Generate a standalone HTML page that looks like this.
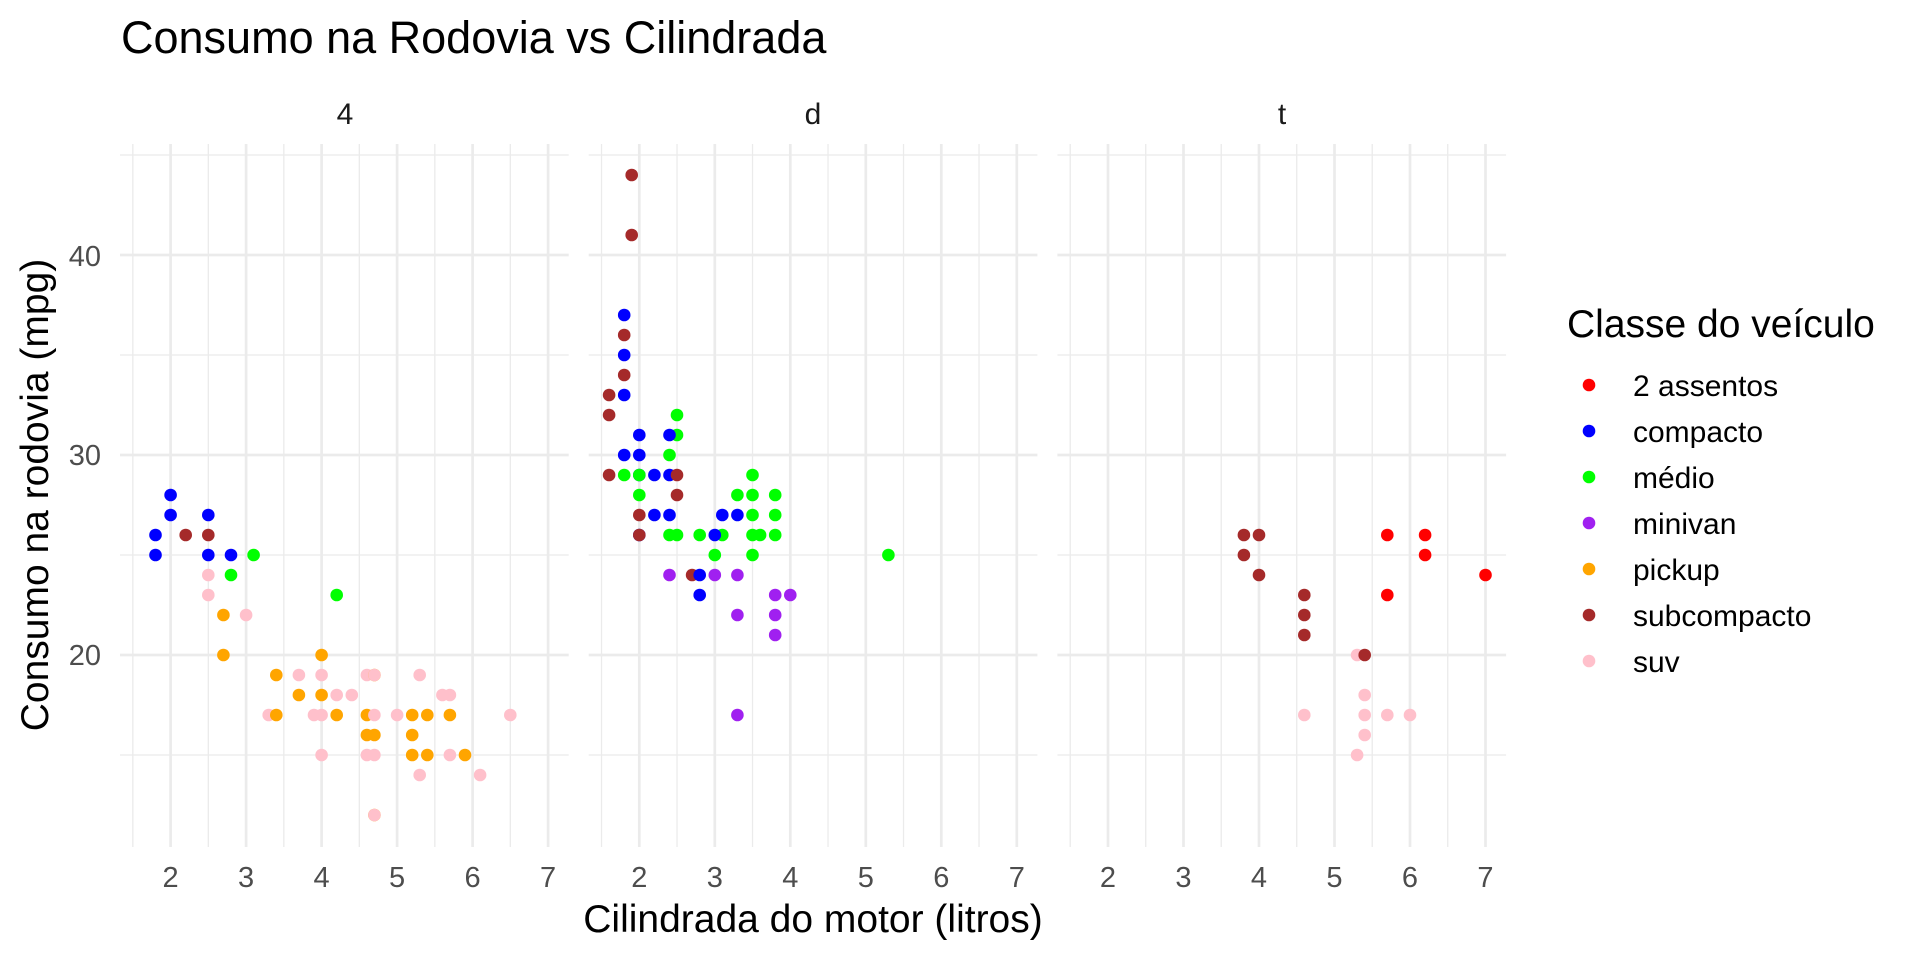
<!DOCTYPE html>
<html><head><meta charset="utf-8"><style>
html,body{margin:0;padding:0;background:#fff;}
svg{display:block;font-family:"Liberation Sans",Arial,sans-serif;}
</style></head><body>
<svg id="s" width="1920" height="960" viewBox="0 0 1920 960" xmlns="http://www.w3.org/2000/svg">
<rect width="1920" height="960" fill="#fff"/>
<g id="grid"></g>
<g id="pts"></g>
<text x="121" y="53" font-size="45" fill="#000">Consumo na Rodovia vs Cilindrada</text>
<text x="345" y="124" font-size="30" fill="#1a1a1a" text-anchor="middle">4</text>
<text x="813" y="124" font-size="30" fill="#1a1a1a" text-anchor="middle">d</text>
<text x="1282" y="124" font-size="30" fill="#1a1a1a" text-anchor="middle">t</text>
<text x="101" y="665" font-size="29" fill="#4d4d4d" text-anchor="end">20</text>
<text x="101" y="465" font-size="29" fill="#4d4d4d" text-anchor="end">30</text>
<text x="101" y="266" font-size="29" fill="#4d4d4d" text-anchor="end">40</text>
<g id="xl" font-size="29" fill="#4d4d4d" text-anchor="middle"></g>
<text x="813" y="932" font-size="39" fill="#000" text-anchor="middle">Cilindrada do motor (litros)</text>
<text transform="translate(48,495) rotate(-90)" font-size="39" fill="#000" text-anchor="middle">Consumo na rodovia (mpg)</text>
<text x="1567" y="337" font-size="39" fill="#000">Classe do veículo</text>
<g font-size="30" fill="#000">
<circle cx="1589" cy="385" r="6.3" fill="#ff0000"/><text x="1633" y="396">2 assentos</text>
<circle cx="1589" cy="431" r="6.3" fill="#0000ff"/><text x="1633" y="442">compacto</text>
<circle cx="1589" cy="477" r="6.3" fill="#00ff00"/><text x="1633" y="488">médio</text>
<circle cx="1589" cy="523" r="6.3" fill="#a020f0"/><text x="1633" y="534">minivan</text>
<circle cx="1589" cy="569" r="6.3" fill="#ffa500"/><text x="1633" y="580">pickup</text>
<circle cx="1589" cy="615" r="6.3" fill="#a52a2a"/><text x="1633" y="626">subcompacto</text>
<circle cx="1589" cy="661" r="6.3" fill="#ffc0cb"/><text x="1633" y="672">suv</text>
</g>
</svg>
<script>
var NS="http://www.w3.org/2000/svg";
var L=[120,588.7,1057.4],W=448.7,T=144,B=847;
function X(p,v){return L[p]+(v-1.33)*75.5;}
function Y(v){return 655-(v-20)*20;}
function el(n,a,par){var e=document.createElementNS(NS,n);for(var k in a)e.setAttribute(k,a[k]);document.getElementById(par).appendChild(e);return e;}
for(var p=0;p<3;p++){
  [15,25,35,45].forEach(function(v){el('line',{x1:L[p],x2:L[p]+W,y1:Y(v),y2:Y(v),stroke:'#ebebeb','stroke-width':1.3},'grid');});
  [20,30,40].forEach(function(v){el('line',{x1:L[p],x2:L[p]+W,y1:Y(v),y2:Y(v),stroke:'#ebebeb','stroke-width':2.7},'grid');});
  [1.5,2.5,3.5,4.5,5.5,6.5].forEach(function(v){el('line',{x1:X(p,v),x2:X(p,v),y1:T,y2:B,stroke:'#ebebeb','stroke-width':1.3},'grid');});
  [2,3,4,5,6,7].forEach(function(v){el('line',{x1:X(p,v),x2:X(p,v),y1:T,y2:B,stroke:'#ebebeb','stroke-width':2.7},'grid');
    var t=el('text',{x:X(p,v),y:887},'xl');t.textContent=v;});
}
var C={r:'#ff0000',b:'#0000ff',g:'#00ff00',m:'#a020f0',o:'#ffa500',s:'#a52a2a',p:'#ffc0cb'};
var D=[
[0,'b',2.0,28],[0,'b',2.0,27],[0,'b',1.8,26],[0,'b',1.8,25],[0,'b',2.5,27],[0,'b',2.5,25],[0,'b',2.8,25],
[0,'s',2.2,26],[0,'s',2.5,26],[0,'g',3.1,25],[0,'g',2.8,24],[0,'g',4.2,23],
[0,'p',2.5,24],[0,'p',2.5,23],[0,'p',3.0,22],[0,'o',2.7,22],[0,'o',2.7,20],[0,'o',4.0,20],
[0,'o',3.4,19],[0,'p',3.7,19],[0,'p',4.0,19],[0,'p',4.6,19],[0,'o',4.7,19],[0,'p',4.7,19],[0,'p',5.3,19],
[0,'o',3.7,18],[0,'o',4.0,18],[0,'p',4.2,18],[0,'p',4.4,18],[0,'p',5.6,18],[0,'p',5.7,18],
[0,'p',3.3,17],[0,'o',3.4,17],[0,'p',3.9,17],[0,'p',4.0,17],[0,'o',4.2,17],[0,'o',4.6,17],[0,'p',4.7,17],[0,'p',5.0,17],[0,'o',5.2,17],[0,'o',5.4,17],[0,'o',5.7,17],[0,'p',6.5,17],
[0,'o',4.6,16],[0,'o',4.7,16],[0,'o',5.2,16],
[0,'p',4.0,15],[0,'p',4.6,15],[0,'p',4.7,15],[0,'o',5.2,15],[0,'o',5.4,15],[0,'p',5.7,15],[0,'o',5.9,15],
[0,'p',5.3,14],[0,'p',6.1,14],[0,'o',4.7,12],[0,'p',4.7,12],
[1,'s',1.9,44],[1,'s',1.9,41],[1,'b',1.8,37],[1,'s',1.8,36],[1,'b',1.8,35],[1,'s',1.8,34],[1,'s',1.6,33],[1,'b',1.8,33],
[1,'s',1.6,32],[1,'g',2.5,32],[1,'b',2.0,31],[1,'g',2.5,31],[1,'b',2.4,31],[1,'b',1.8,30],[1,'b',2.0,30],[1,'g',2.4,30],
[1,'s',1.6,29],[1,'g',1.8,29],[1,'b',2.0,29],[1,'g',2.0,29],[1,'b',2.2,29],[1,'b',2.4,29],[1,'s',2.5,29],[1,'g',3.5,29],
[1,'g',2.0,28],[1,'s',2.5,28],[1,'g',3.3,28],[1,'g',3.5,28],[1,'g',3.8,28],
[1,'s',2.0,27],[1,'b',2.2,27],[1,'b',2.4,27],[1,'b',3.1,27],[1,'b',3.3,27],[1,'g',3.5,27],[1,'g',3.8,27],
[1,'b',2.0,26],[1,'s',2.0,26],[1,'g',2.4,26],[1,'g',2.5,26],[1,'g',2.8,26],[1,'g',3.1,26],[1,'b',3.0,26],[1,'g',3.5,26],[1,'g',3.6,26],[1,'g',3.8,26],
[1,'g',3.0,25],[1,'g',3.5,25],[1,'g',5.3,25],
[1,'m',2.4,24],[1,'s',2.7,24],[1,'b',2.8,24],[1,'m',3.0,24],[1,'m',3.3,24],
[1,'b',2.8,23],[1,'m',3.8,23],[1,'m',4.0,23],[1,'m',3.3,22],[1,'m',3.8,22],[1,'m',3.8,21],[1,'m',3.3,17],
[2,'s',3.8,26],[2,'s',4.0,26],[2,'r',5.7,26],[2,'r',6.2,26],[2,'s',3.8,25],[2,'r',6.2,25],[2,'s',4.0,24],[2,'r',7.0,24],
[2,'s',4.6,23],[2,'r',5.7,23],[2,'s',4.6,22],[2,'s',4.6,21],[2,'p',5.3,20],[2,'s',5.4,20],
[2,'p',5.4,18],[2,'p',4.6,17],[2,'p',5.4,17],[2,'p',5.7,17],[2,'p',6.0,17],[2,'p',5.4,16],[2,'p',5.3,15]
];
D.forEach(function(d){el('circle',{cx:X(d[0],d[2]).toFixed(1),cy:Y(d[3]).toFixed(1),r:6.3,fill:C[d[1]]},'pts');});
</script>
</body></html>
